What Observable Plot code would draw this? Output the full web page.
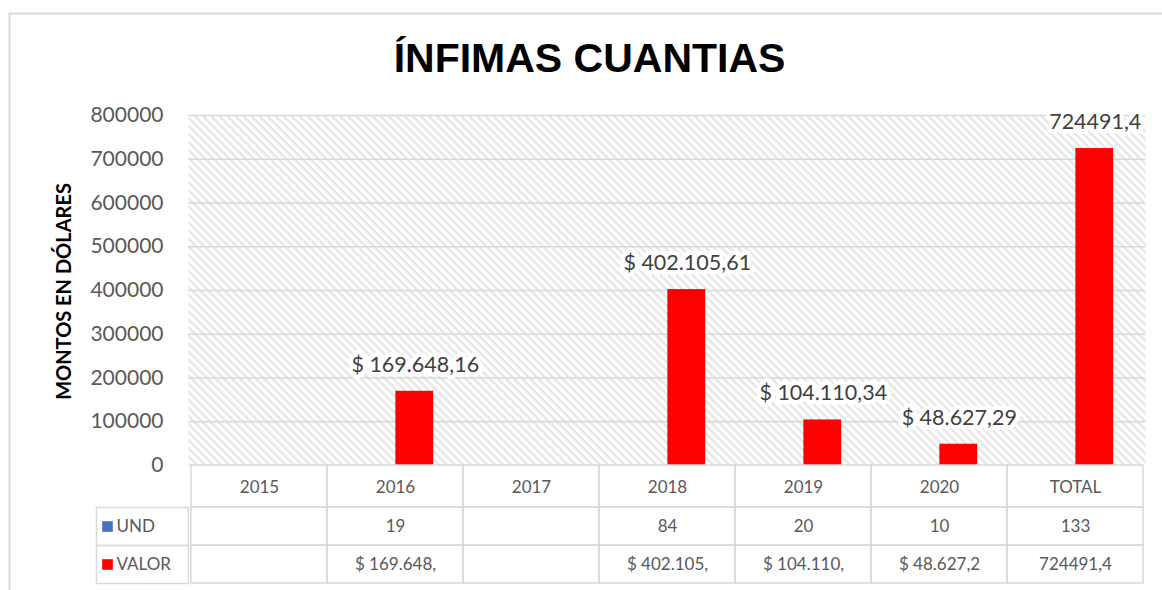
<!DOCTYPE html>
<html>
<head>
<meta charset="utf-8">
<script src="https://cdn.jsdelivr.net/npm/d3@7"></script>
<script src="https://cdn.jsdelivr.net/npm/@observablehq/plot@0.6"></script>
<style>
  html, body { margin: 0; padding: 0; background: #fff; }
  #chart { width: 1162px; height: 590px; position: relative; overflow: hidden; }
</style>
</head>
<body>
<div id="chart"></div>
<script>
// ---- data ----
const title = "ÍNFIMAS CUANTIAS";
const yTitle = "MONTOS EN DÓLARES";
const categories = ["2015", "2016", "2017", "2018", "2019", "2020", "TOTAL"];
const undValues = [null, 19, null, 84, 20, 10, 133];
const valorValues = [null, 169648.16, null, 402105.61, 104110.34, 48627.29, 724491.4];
const yTicks = [0, 100000, 200000, 300000, 400000, 500000, 600000, 700000, 800000];
const seriesNames = ["UND", "VALOR"];
const seriesColors = ["#4472c4", "#ff0000"];

const rows = categories.map((c, i) => ({cat: c, und: undValues[i], valor: valorValues[i]}));

const locale = d3.formatLocale({decimal: ",", thousands: ".", grouping: [3], currency: ["$ ", ""]});
const fmtMoney = locale.format("$,.2f");
const fmtTotal = locale.format(".1f");
const valorLabel = d => d.cat === "TOTAL" ? fmtTotal(d.valor) : fmtMoney(d.valor);

// ---- layout ----
const W = 1162, H = 590;
const mL = 188, mR = 17, mT = 115, mB = 125;
const frameW = W - mL - mR, frameH = H - mT - mB;
const bw = frameW / categories.length;
const barW = 38.5;
const rowH = [42, 38, 38];
const grid = "#d9d9d9";
const textGrey = "#595959";
const tableFont = 17;

const valorRows = rows.filter(d => d.valor != null);
const undRows = rows.filter(d => d.und != null);

const plot = Plot.plot({
  width: W, height: H,
  marginLeft: mL, marginRight: mR, marginTop: mT, marginBottom: mB,
  style: {fontFamily: "Lato, sans-serif", background: "white", overflow: "visible"},
  x: {type: "band", domain: categories, padding: 0},
  y: {domain: [0, 800000]},
  marks: [
    // outer chart border
    Plot.frame({stroke: grid, strokeWidth: 2, insetLeft: -(mL - 9), insetTop: -(mT - 13), insetRight: -(mR + 5), insetBottom: -(mB + 20)}),
    // hatched plot area
    Plot.frame({fill: "url(#hatch)", stroke: "none"}),
    Plot.ruleY(yTicks.filter(d => d > 0), {stroke: grid, strokeWidth: 1.5}),
    // bars
    Plot.barY(undRows, {x: "cat", y: "und", fill: seriesColors[0], insetLeft: bw / 2 - barW, insetRight: bw / 2}),
    Plot.barY(valorRows, {x: "cat", y: "valor", fill: seriesColors[1], insetLeft: bw / 2, insetRight: bw / 2 - barW}),
    // data labels
    Plot.text(valorRows, {x: "cat", y: "valor", text: valorLabel, dx: barW / 2 + 0.5, dy: -26.5,
      fontSize: 21.5, fill: "#404040", stroke: "white", strokeWidth: 9, strokeLinejoin: "round"}),
    // y axis
    Plot.axisY({ticks: yTicks, tickSize: 0, tickPadding: 25, fontSize: 21, color: textGrey,
      tickFormat: d => String(d), label: null}),
    Plot.text([yTitle], {text: d => d, frameAnchor: "left", textAnchor: "middle", lineAnchor: "middle",
      rotate: -90, dx: -124, dy: 1, fontSize: 20, fontWeight: "bold", fill: "black"}),
    // title
    Plot.text([title], {text: d => d, frameAnchor: "top", textAnchor: "middle", lineAnchor: "middle",
      dx: 589 - (mL + frameW / 2), dy: -57,
      fontSize: 41, fontWeight: "bold", fontFamily: "'Liberation Sans', Arial, sans-serif", fill: "black"}),
    // data table: header row cells + x axis labels
    Plot.cell(categories, {x: d => d, fill: "none", stroke: grid, strokeWidth: 1.5,
      insetTop: frameH, insetBottom: -rowH[0]}),
    Plot.axisX({tickSize: 0, tickPadding: 15, fontSize: tableFont, color: textGrey, label: null}),
    // UND row
    Plot.cell(categories, {x: d => d, fill: "none", stroke: grid, strokeWidth: 1.5,
      insetTop: frameH + rowH[0], insetBottom: -(rowH[0] + rowH[1])}),
    Plot.text(undRows, {x: "cat", text: "und", frameAnchor: "bottom", lineAnchor: "middle",
      dy: rowH[0] + rowH[1] / 2, fontSize: tableFont, fill: textGrey}),
    // VALOR row
    Plot.cell(categories, {x: d => d, fill: "none", stroke: grid, strokeWidth: 1.5,
      insetTop: frameH + rowH[0] + rowH[1], insetBottom: -(rowH[0] + rowH[1] + rowH[2])}),
    Plot.text(valorRows, {x: "cat", text: d => valorLabel(d).slice(0, 10), frameAnchor: "bottom", lineAnchor: "middle",
      dy: rowH[0] + rowH[1] + rowH[2] / 2, fontSize: tableFont, fill: textGrey}),
    // legend column of the table
    Plot.frame({stroke: grid, strokeWidth: 1.5, insetLeft: -92, insetRight: frameW,
      insetTop: frameH + rowH[0], insetBottom: -(rowH[0] + rowH[1])}),
    Plot.frame({stroke: grid, strokeWidth: 1.5, insetLeft: -92, insetRight: frameW,
      insetTop: frameH + rowH[0] + rowH[1], insetBottom: -(rowH[0] + rowH[1] + rowH[2])}),
    Plot.dot([seriesNames[0]], {frameAnchor: "bottom-left", dx: -81, dy: rowH[0] + rowH[1] / 2,
      symbol: "square", r: 6, fill: seriesColors[0], stroke: "none"}),
    Plot.text([seriesNames[0]], {text: d => d, frameAnchor: "bottom-left", lineAnchor: "middle", textAnchor: "start",
      dx: -72, dy: rowH[0] + rowH[1] / 2, fontSize: tableFont, fill: textGrey}),
    Plot.dot([seriesNames[1]], {frameAnchor: "bottom-left", dx: -81, dy: rowH[0] + rowH[1] + rowH[2] / 2,
      symbol: "square", r: 6, fill: seriesColors[1], stroke: "none"}),
    Plot.text([seriesNames[1]], {text: d => d, frameAnchor: "bottom-left", lineAnchor: "middle", textAnchor: "start",
      dx: -72, dy: rowH[0] + rowH[1] + rowH[2] / 2, fontSize: tableFont, fill: textGrey})
  ]
});

// hatch pattern definition
const defs = d3.select(plot).insert("defs", ":first-child");
const pat = defs.append("pattern")
  .attr("id", "hatch")
  .attr("patternUnits", "userSpaceOnUse")
  .attr("width", 12).attr("height", 5.7)
  .attr("patternTransform", "rotate(45)");
pat.append("rect").attr("width", 12).attr("height", 5.7).attr("fill", "white");
pat.append("rect").attr("width", 12).attr("height", 2.4).attr("fill", "#e6e6e6");

document.getElementById("chart").appendChild(plot);
</script>
</body>
</html>
